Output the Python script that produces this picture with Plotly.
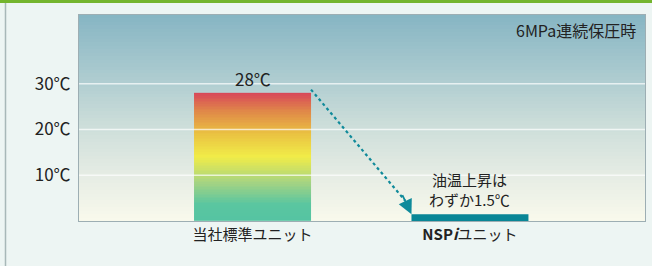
import numpy as np
import plotly.graph_objects as go

categories = ["当社標準ユニット", "<b>NSP<i>i</i></b>ユニット"]
temps = [28, 1.5]
bar_labels = ["28℃", "油温上昇は<br>わずか1.5℃"]
y_ticks = [10, 20, 30]
y_ticktext = ["10℃", "20℃", "30℃"]
note = "6MPa連続保圧時"

xpos = [0, 1]
bw = 0.538
xr = [-0.798, 1.805]
yr = [0, 45]
font = "Noto Sans CJK JP, Noto Sans, sans-serif"

fig = go.Figure()

# background gradient (edges given for x and y)
ys = np.linspace(yr[0], yr[1], 61)
mid = (ys[:-1] + ys[1:]) / 2
fig.add_trace(go.Heatmap(
    x=[xr[0], xr[1]], y=ys, z=[[v] for v in mid],
    colorscale=[[0, "#F9F9EC"], [0.25, "#E3EBE3"], [0.5, "#C8DBD8"],
                [0.72, "#AACACF"], [1, "#86B5C3"]],
    zmin=yr[0], zmax=yr[1],
    showscale=False, hoverinfo="skip"))

# gridlines
gx, gy = [], []
for t in y_ticks:
    gx += [xr[0], xr[1], None]
    gy += [t, t, None]
fig.add_trace(go.Scatter(x=gx, y=gy, mode="lines",
                         line=dict(color="rgba(255,255,255,0.7)", width=1.5),
                         hoverinfo="skip", showlegend=False))

# gradient bar (first category)
by = np.linspace(0, temps[0], 81)
bmid = (by[:-1] + by[1:]) / 2
fig.add_trace(go.Heatmap(
    x=[xpos[0] - bw / 2, xpos[0] + bw / 2], y=by, z=[[v] for v in bmid],
    colorscale=[[0, "#55C4A2"], [0.13, "#5AC6A0"], [0.3, "#A6D482"],
                [0.5, "#F1EC48"], [0.68, "#EAC142"], [0.85, "#E08A48"],
                [1, "#D8465A"]],
    zmin=0, zmax=temps[0],
    showscale=False, hoverinfo="skip"))

# solid bar (second category)
fig.add_trace(go.Bar(x=[xpos[1]], y=[temps[1]], width=bw,
                     marker=dict(color="#098696", line=dict(width=0)),
                     showlegend=False))

# dotted connector
x0 = xpos[0] + bw / 2
x1 = xpos[1] - bw / 2
fig.add_shape(type="line", x0=x0, y0=temps[0] + 0.7, x1=x1 - 0.03, y1=temps[1] + 3,
              line=dict(color="#0F8A9A", width=2.2, dash="dot"))
fig.add_annotation(x=x1, y=temps[1], ax=x1 - 0.045, ay=temps[1] + 4.5,
                   axref="x", ayref="y", xref="x", yref="y", text="",
                   showarrow=True, arrowhead=2, arrowsize=1.6, arrowwidth=1.8,
                   arrowcolor="#0F8A9A")

# labels
fig.add_annotation(x=xpos[0], y=temps[0], text=bar_labels[0], showarrow=False,
                   yanchor="bottom", yshift=0, font=dict(size=17, color="#222", family=font))
fig.add_annotation(x=xpos[1], y=temps[1], text=bar_labels[1], showarrow=False,
                   yanchor="bottom", yshift=2, font=dict(size=15, color="#222", family=font))
fig.add_annotation(xref="paper", yref="paper", x=0.987, y=0.925, text=note,
                   showarrow=False, xanchor="right", yanchor="middle",
                   font=dict(size=16, color="#222", family=font))

# decorations: left border, top green strip
fig.add_shape(type="line", xref="paper", yref="paper",
              x0=-73.5 / 566, x1=-73.5 / 566, y0=-0.25, y1=1.06,
              line=dict(color="#A8B8B8", width=1.5))
fig.add_shape(type="rect", xref="paper", yref="paper",
              x0=-79 / 566, x1=1 + 7 / 566, y0=1 + 12 / 206, y1=1 + 15 / 206,
              fillcolor="#74B52E", line=dict(width=0))

fig.update_layout(
    width=652, height=266,
    margin=dict(l=79, r=7, t=15, b=45),
    paper_bgcolor="#EDF5F3", plot_bgcolor="#EDF5F3",
    showlegend=False,
    font=dict(family=font, color="#222"),
    xaxis=dict(range=xr, tickvals=xpos, ticktext=categories, showgrid=False,
               zeroline=False, showline=True, linecolor="#9DAEB3", linewidth=1,
               mirror=True, ticks="", tickfont=dict(size=15, color="#222"),
               fixedrange=True),
    yaxis=dict(range=yr, tickvals=y_ticks, ticktext=y_ticktext, showgrid=False,
               zeroline=False, showline=True, linecolor="#9DAEB3", linewidth=1,
               mirror=True, ticks="", tickfont=dict(size=17, color="#222"),
               ticklabelstandoff=4, fixedrange=True),
)

fig.write_html("out.html", config={"displayModeBar": False},
               post_script="document.body.style.margin='0';document.body.style.overflow='hidden';")
